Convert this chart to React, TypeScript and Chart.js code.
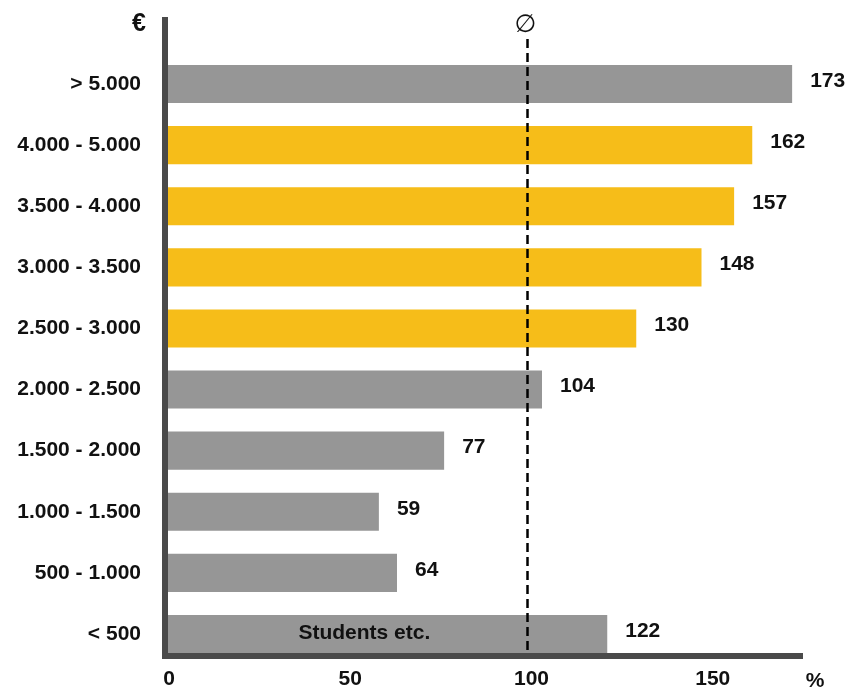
import React, { useEffect, useRef } from "react";
import { Chart, registerables } from "chart.js";

Chart.register(...registerables);

const categories = [
  "> 5.000",
  "4.000 - 5.000",
  "3.500 - 4.000",
  "3.000 - 3.500",
  "2.500 - 3.000",
  "2.000 - 2.500",
  "1.500 - 2.000",
  "1.000 - 1.500",
  "500 - 1.000",
  "< 500",
];
const values = [173, 162, 157, 148, 130, 104, 77, 59, 64, 122];
const highlighted = [false, true, true, true, true, false, false, false, false, false];
const xTicks = [0, 50, 100, 150];
const averageValue = 100;
const averageSymbol = "∅";
const currencyLabel = "€";
const unitLabel = "%";
const barNote = "Students etc.";
const barNoteCategory = "< 500";
const barNoteValue = 55;

const GRAY = "#969696";
const YELLOW = "#F6BD19";
const AXIS = "#4a4a4a";
const TEXT = "#111111";
const FONT = "'Liberation Sans', Arial, Helvetica, sans-serif";

const decorPlugin = {
  id: "decor",
  afterDatasetsDraw(chart: any) {
    const ctx = chart.ctx;
    const xs = chart.scales.x;
    const ys = chart.scales.y;
    const area = chart.chartArea;
    const meta = chart.getDatasetMeta(0);
    const lastBar = meta.data[meta.data.length - 1] as any;
    const axisY = lastBar.y + lastBar.height / 2 + 3;
    const axisX = xs.getPixelForValue(0);

    ctx.save();
    // average dashed line
    const ax = xs.getPixelForValue(averageValue);
    ctx.strokeStyle = "#000";
    ctx.lineWidth = 2.5;
    ctx.setLineDash([9, 5]);
    ctx.beginPath();
    ctx.moveTo(ax, 39);
    ctx.lineTo(ax, axisY);
    ctx.stroke();
    ctx.setLineDash([]);

    // axis lines
    ctx.strokeStyle = AXIS;
    ctx.lineWidth = 6;
    ctx.beginPath();
    ctx.moveTo(axisX, 17);
    ctx.lineTo(axisX, axisY + 3);
    ctx.stroke();
    ctx.beginPath();
    ctx.moveTo(axisX - 3, axisY);
    ctx.lineTo(area.right, axisY);
    ctx.stroke();

    // value labels
    ctx.fillStyle = TEXT;
    ctx.font = `bold 21px ${FONT}`;
    ctx.textAlign = "left";
    ctx.textBaseline = "middle";
    meta.data.forEach((bar: any, i: number) => {
      ctx.fillText(String(values[i]), bar.x + 18, bar.y - 3);
    });

    // note inside bar
    ctx.textAlign = "center";
    ctx.fillText(barNote, xs.getPixelForValue(barNoteValue), ys.getPixelForValue(categories.indexOf(barNoteCategory)) - 1);

    // unit labels
    ctx.textAlign = "right";
    ctx.font = `bold 25px ${FONT}`;
    ctx.fillText(currencyLabel, axisX - 19, 24);
    ctx.textAlign = "center";
    ctx.font = `bold 21px ${FONT}`;
    ctx.fillText(unitLabel, area.right + 12, 681);
    ctx.font = `25px 'DejaVu Sans', sans-serif`;
    ctx.fillText(averageSymbol, ax - 2, 25);
    ctx.restore();
  },
};

export default function App() {
  const ref = useRef<HTMLCanvasElement>(null);
  useEffect(() => {
    if (!ref.current) return;
    const chart = new Chart(ref.current, {
      type: "bar",
      data: {
        labels: categories,
        datasets: [
          {
            data: values,
            backgroundColor: highlighted.map((h) => (h ? YELLOW : GRAY)),
            borderWidth: 0,
            categoryPercentage: 1,
            barPercentage: 0.623,
          },
        ],
      },
      options: {
        indexAxis: "y",
        responsive: false,
        animation: false,
        layout: { padding: { top: 53.5, right: 47, bottom: 0, left: 0 } },
        plugins: {
          legend: { display: false },
          tooltip: { enabled: false },
        },
        scales: {
          x: {
            min: 0,
            max: 176,
            afterFit: (s: any) => {
              s.height = 27.5;
              s.paddingLeft = 0;
              s.paddingRight = 0;
            },
            afterBuildTicks: (s: any) => {
              s.ticks = xTicks.map((v) => ({ value: v }));
            },
            grid: { display: false, drawTicks: false },
            border: { display: false },
            ticks: {
              padding: 2,
              labelOffset: 4,
              color: TEXT,
              font: { family: FONT, size: 21, weight: "bold" },
              maxRotation: 0,
            },
          },
          y: {
            afterFit: (s: any) => {
              s.width = 165;
              s.paddingTop = 0;
              s.paddingBottom = 0;
            },
            grid: { display: false, drawTicks: false },
            border: { display: false },
            ticks: {
              padding: 24,
              color: TEXT,
              font: { family: FONT, size: 21, weight: "bold" },
            },
          },
        },
      },
      plugins: [decorPlugin],
    });
    return () => chart.destroy();
  }, []);
  return (
    <div style={{ position: "fixed", left: 0, top: 0, width: 850, height: 692, background: "#fff" }}>
      <canvas ref={ref} width={850} height={692} style={{ width: 850, height: 692 }} />
    </div>
  );
}
